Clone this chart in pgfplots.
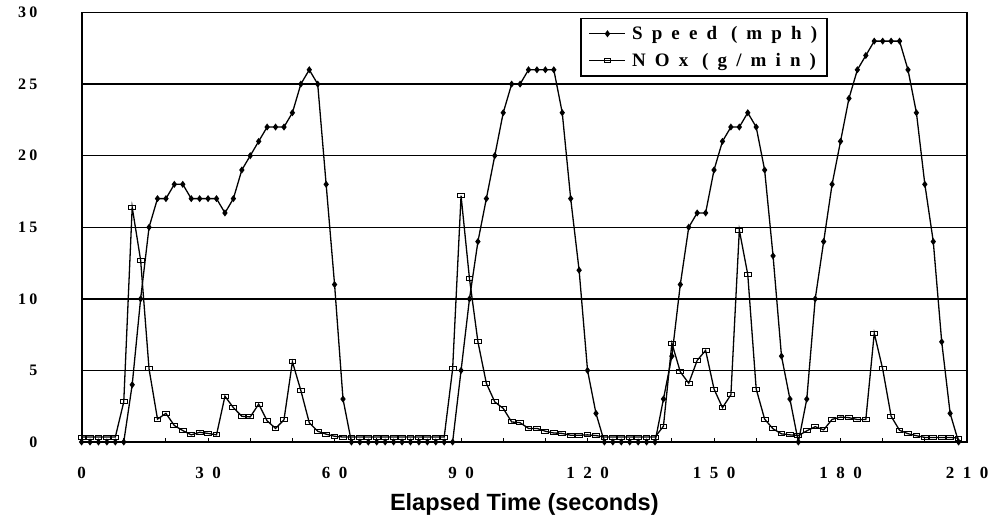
\documentclass[border=0pt]{standalone}
\usepackage{fontspec}
\setmainfont{Liberation Serif}
\newfontfamily\xtfont[LetterSpace=50]{Liberation Serif}
\newfontfamily\ytfont[LetterSpace=20]{Liberation Serif}
\newfontfamily\legfont[LetterSpace=48]{Liberation Serif}
\newfontfamily\labfont{Liberation Sans}
\usepackage{pgfplots}
\pgfplotsset{compat=1.18}
\usepackage{pgfplotstable}

\pgfplotstableread{
t S N
0 0 0.35
2 0 0.35
4 0 0.35
6 0 0.35
8 0 0.35
10 0 2.8
12 4 16.4
14 10 12.7
16 15 5.1
18 17 1.6
20 17 2.0
22 18 1.15
24 18 0.8
26 17 0.5
28 17 0.68
30 17 0.6
32 17 0.5
34 16 3.2
36 17 2.4
38 19 1.8
40 20 1.75
42 21 2.65
44 22 1.48
46 22 0.95
48 22 1.55
50 23 5.6
52 25 3.6
54 26 1.35
56 25 0.75
58 18 0.55
60 11 0.4
62 3 0.35
64 0 0.35
66 0 0.35
68 0 0.35
70 0 0.35
72 0 0.35
74 0 0.35
76 0 0.35
78 0 0.35
80 0 0.35
82 0 0.35
84 0 0.35
86 0 0.35
88 0 5.1
90 5 17.2
92 10 11.4
94 14 7.0
96 17 4.1
98 20 2.8
100 23 2.35
102 25 1.4
104 25 1.35
106 26 0.95
108 26 0.95
110 26 0.75
112 26 0.63
114 23 0.6
116 17 0.47
118 12 0.47
120 5 0.5
122 2 0.45
124 0 0.35
126 0 0.35
128 0 0.35
130 0 0.35
132 0 0.35
134 0 0.35
136 0 0.35
138 3 1.1
140 6 6.9
142 11 4.9
144 15 4.1
146 16 5.7
148 16 6.4
150 19 3.7
152 21 2.4
154 22 3.3
156 22 14.8
158 23 11.7
160 22 3.7
162 19 1.6
164 13 0.92
166 6 0.57
168 3 0.5
170 0 0.45
172 3 0.78
174 10 1.07
176 14 0.85
178 18 1.58
180 21 1.74
182 24 1.70
184 26 1.57
186 27 1.57
188 28 7.6
190 28 5.1
192 28 1.8
194 28 0.82
196 26 0.58
198 23 0.44
200 18 0.32
202 14 0.32
204 7 0.32
206 2 0.32
208 0 0.27
}\datatable

\begin{document}
\begin{tikzpicture}
\begin{axis}[
  at={(81.6pt,-442pt)}, anchor=south west,
  scale only axis, width=885.4pt, height=429.5pt,
  xmin=0, xmax=210, ymin=0, ymax=30,
  xtick={0,10,...,210},
  xticklabels={0,,,30,,,60,,,90,,,120,,,150,,,180,,,210},
  ytick={0,5,...,30},
  yticklabels={0,5,10,15,20,25,30},
  ymajorgrids, grid style={black, line width=1.5pt},
  axis line style={black, line width=1.8pt},
  tick align=inside, xtick pos=left, major tick length=4pt,
  xtick style={black, line width=1pt},
  ytick style={draw=none},
  xticklabel style={font=\xtfont\bfseries\fontsize{17}{17}\selectfont, anchor=base, yshift=-36pt, inner sep=0pt},
  yticklabel style={font=\ytfont\bfseries\fontsize{16}{16}\selectfont, anchor=east, xshift=-44pt, inner sep=0pt},
  xlabel={Elapsed Time (seconds)},
  xlabel style={font=\labfont\bfseries\fontsize{23.5}{23.5}\selectfont, at={(axis description cs:0.5,-0.145)}, anchor=center},
  legend style={at={(rel axis cs:0.563,0.988)}, anchor=north west, draw=black, line width=1.5pt, fill=white,
    font=\legfont\bfseries\fontsize{19}{19}\selectfont, inner xsep=8pt, inner ysep=6pt, row sep=8pt, column sep=4pt},
  legend cell align=left,
  legend image code/.code={\draw[mark repeat=2,mark phase=2,#1] plot coordinates {(0pt,0pt) (18pt,0pt) (36pt,0pt)};},
]
\addplot[black, line width=1.3pt, mark=diamond*, mark size=2.5pt, mark options={solid, fill=black}] table[x=t, y=S] {\datatable};
\addlegendentry{Speed (mph)}
\addplot[black, line width=1.3pt, mark=square, mark size=2pt, mark options={solid, fill=white, xscale=1.7, line width=1pt}] table[x=t, y=N] {\datatable};
\addlegendentry{NOx (g/min)}
\end{axis}
\pgfresetboundingbox
\path[use as bounding box] (0pt,0pt) rectangle (992pt,-523pt);
\end{tikzpicture}
\end{document}
